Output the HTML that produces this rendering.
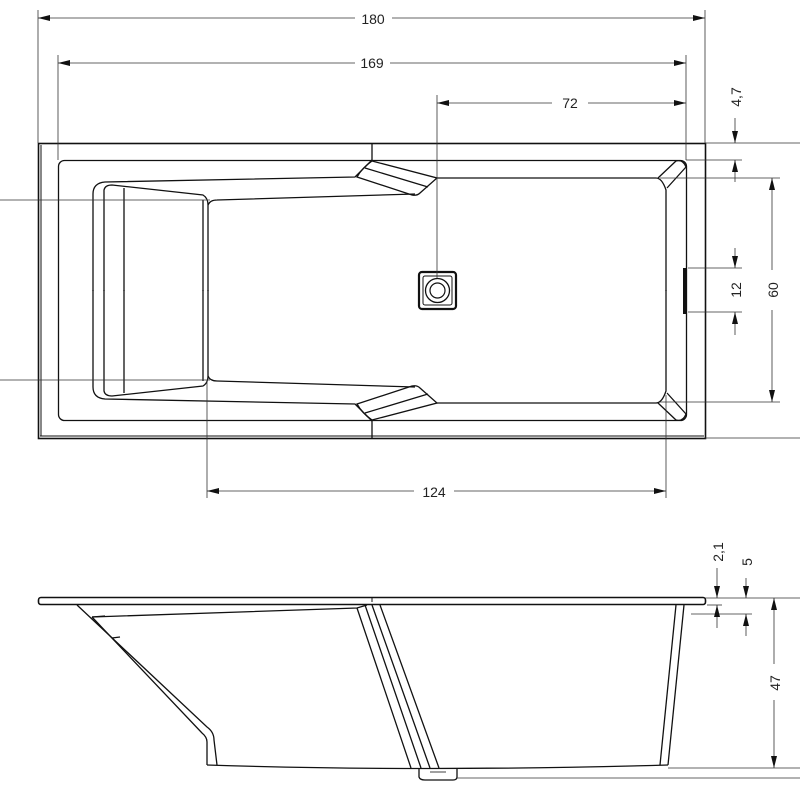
<!DOCTYPE html>
<html><head><meta charset="utf-8"><style>
html,body{margin:0;padding:0;background:#fff;}
svg{display:block;}
text{font-family:"Liberation Sans",sans-serif;font-size:14px;fill:#222;}
</style></head><body>
<svg width="800" height="800" viewBox="0 0 800 800" xmlns="http://www.w3.org/2000/svg">
<defs>
<marker id="a" viewBox="0 0 12 6" refX="12" refY="3" markerWidth="12" markerHeight="6" markerUnits="userSpaceOnUse" orient="auto-start-reverse"><path d="M0,0 L12,3 L0,6 z" fill="#111"/></marker>
<g id="half" fill="none" stroke="#111" stroke-width="1.3">
  <path d="M93,291 L93,194 Q93,183 105,182 L355,177 L372,160"/>
  <path d="M104,291 L104,190 Q105,185 112,185 L203,195 Q208,198 208,205 L208,291"/>
  <path d="M124,291 L124,188"/>
  <path d="M203,291 L203,200"/>
  <path d="M208,205 Q210,200 217,200 L415,194"/>
  <path d="M372,161 L437,178 L420,193 Q417,196 412,195 L357,177 Q362,168 372,161"/>
  <path d="M365,168 L428,187"/>
  <path d="M437,178 L656,178 Q662,178 666,190 L666,291"/>
  <path d="M658,178 L676,161 Q683,159 686,167 L667,188"/>
</g>
</defs>
<g stroke="#111" fill="none">
  <rect x="38.5" y="143.5" width="667" height="295" stroke-width="1.6"/>
  <line x1="41" y1="145" x2="41" y2="436" stroke-width="1"/>
  <line x1="40" y1="436" x2="704" y2="436" stroke-width="1"/>
  <rect x="58.5" y="160.5" width="628" height="260" rx="6" stroke-width="1.3"/>
  <line x1="372" y1="143" x2="372" y2="160" stroke-width="1.3"/>
  <line x1="372" y1="421" x2="372" y2="438" stroke-width="1.3"/>
  <use href="#half"/>
  <use href="#half" transform="translate(0,581) scale(1,-1)"/>
  <rect x="683" y="268" width="3" height="46" fill="#111" stroke="none"/>
  <rect x="419" y="272" width="37" height="37" rx="3" stroke-width="2.2"/>
  <rect x="423" y="276" width="29" height="29" rx="2" stroke-width="1"/>
  <circle cx="437.5" cy="290.5" r="12" stroke-width="1.3"/>
  <circle cx="437.5" cy="290.5" r="7.5" stroke-width="1.2"/>
</g>
<g stroke="#333" stroke-width="0.8" fill="none">
  <line x1="38" y1="10" x2="38" y2="143"/>
  <line x1="705" y1="10" x2="705" y2="143"/>
  <line x1="58" y1="55" x2="58" y2="160"/>
  <line x1="686" y1="55" x2="686" y2="160"/>
  <line x1="437" y1="95" x2="437" y2="278"/>
  <line x1="705" y1="143" x2="800" y2="143"/>
  <line x1="686" y1="160" x2="742" y2="160"/>
  <line x1="660" y1="178" x2="780" y2="178"/>
  <line x1="660" y1="402" x2="780" y2="402"/>
  <line x1="688" y1="268" x2="742" y2="268"/>
  <line x1="688" y1="312" x2="742" y2="312"/>
  <line x1="705" y1="438" x2="800" y2="438"/>
  <line x1="0" y1="200" x2="210" y2="200"/>
  <line x1="0" y1="380" x2="210" y2="380"/>
  <line x1="207" y1="380" x2="207" y2="498"/>
  <line x1="666" y1="395" x2="666" y2="498"/>
  <line x1="38" y1="18" x2="355" y2="18" marker-start="url(#a)"/>
  <line x1="392" y1="18" x2="705" y2="18" marker-end="url(#a)"/>
  <line x1="58" y1="63" x2="355" y2="63" marker-start="url(#a)"/>
  <line x1="390" y1="63" x2="686" y2="63" marker-end="url(#a)"/>
  <line x1="437" y1="103" x2="552" y2="103" marker-start="url(#a)"/>
  <line x1="588" y1="103" x2="686" y2="103" marker-end="url(#a)"/>
  <line x1="207" y1="491" x2="414" y2="491" marker-start="url(#a)"/>
  <line x1="454" y1="491" x2="666" y2="491" marker-end="url(#a)"/>
  <line x1="735" y1="118" x2="735" y2="143" marker-end="url(#a)"/>
  <line x1="735" y1="182" x2="735" y2="160" marker-end="url(#a)"/>
  <line x1="772" y1="178" x2="772" y2="270" marker-start="url(#a)"/>
  <line x1="772" y1="310" x2="772" y2="402" marker-end="url(#a)"/>
  <line x1="735" y1="248" x2="735" y2="268" marker-end="url(#a)"/>
  <line x1="735" y1="335" x2="735" y2="312" marker-end="url(#a)"/>
</g>
<text x="373" y="24" text-anchor="middle">180</text>
<text x="372" y="68" text-anchor="middle">169</text>
<text x="570" y="108" text-anchor="middle">72</text>
<text x="434" y="497" text-anchor="middle">124</text>
<text transform="translate(741,97) rotate(-90)" text-anchor="middle">4,7</text>
<text transform="translate(741,290) rotate(-90)" text-anchor="middle">12</text>
<text transform="translate(778,290) rotate(-90)" text-anchor="middle">60</text>

<g stroke="#111" fill="none" stroke-width="1.3">
  <rect x="38.5" y="597.5" width="667" height="7" rx="2.5" stroke-width="1.6"/>
  <line x1="372" y1="598" x2="372" y2="602" stroke-width="1"/>
  <path d="M77,605 L207,727 Q214,732 214,740 L217,765"/>
  <path d="M92,617 L202,733 Q207,737 207,742 L207,765"/>
  <path d="M92,617 L357,608 L367,605"/>
  <line x1="92" y1="617" x2="105" y2="616"/>
  <line x1="112" y1="638" x2="120" y2="637"/>
  <path d="M357,608 L411,768"/>
  <path d="M365,605 L421,768"/>
  <path d="M372,605 L430,768"/>
  <path d="M380,605 L439,768"/>
  <path d="M684,605 L668,765"/>
  <path d="M676,605 L660,765"/>
  <path d="M207,765 Q420,772 668,765"/>
  <path d="M419,769 L419,777 Q420,780 425,780 L453,780 Q457,780 457,777 L457,769"/>
  <line x1="430" y1="772" x2="446" y2="772" stroke-width="0.8"/>
</g>
<g stroke="#333" stroke-width="0.8" fill="none">
  <line x1="705" y1="598" x2="800" y2="598"/>
  <line x1="707" y1="605" x2="722" y2="605"/>
  <line x1="691" y1="614" x2="752" y2="614"/>
  <line x1="668" y1="768" x2="800" y2="768"/>
  <line x1="457" y1="778" x2="800" y2="778"/>
  <line x1="717" y1="568" x2="717" y2="598" marker-end="url(#a)"/>
  <line x1="717" y1="628" x2="717" y2="605" marker-end="url(#a)"/>
  <line x1="746" y1="578" x2="746" y2="598" marker-end="url(#a)"/>
  <line x1="746" y1="636" x2="746" y2="614" marker-end="url(#a)"/>
  <line x1="774" y1="598" x2="774" y2="664" marker-start="url(#a)"/>
  <line x1="774" y1="700" x2="774" y2="768" marker-end="url(#a)"/>
</g>
<text transform="translate(723,552) rotate(-90)" text-anchor="middle">2,1</text>
<text transform="translate(752,562) rotate(-90)" text-anchor="middle">5</text>
<text transform="translate(780,683) rotate(-90)" text-anchor="middle">47</text>
</svg>
</body></html>
